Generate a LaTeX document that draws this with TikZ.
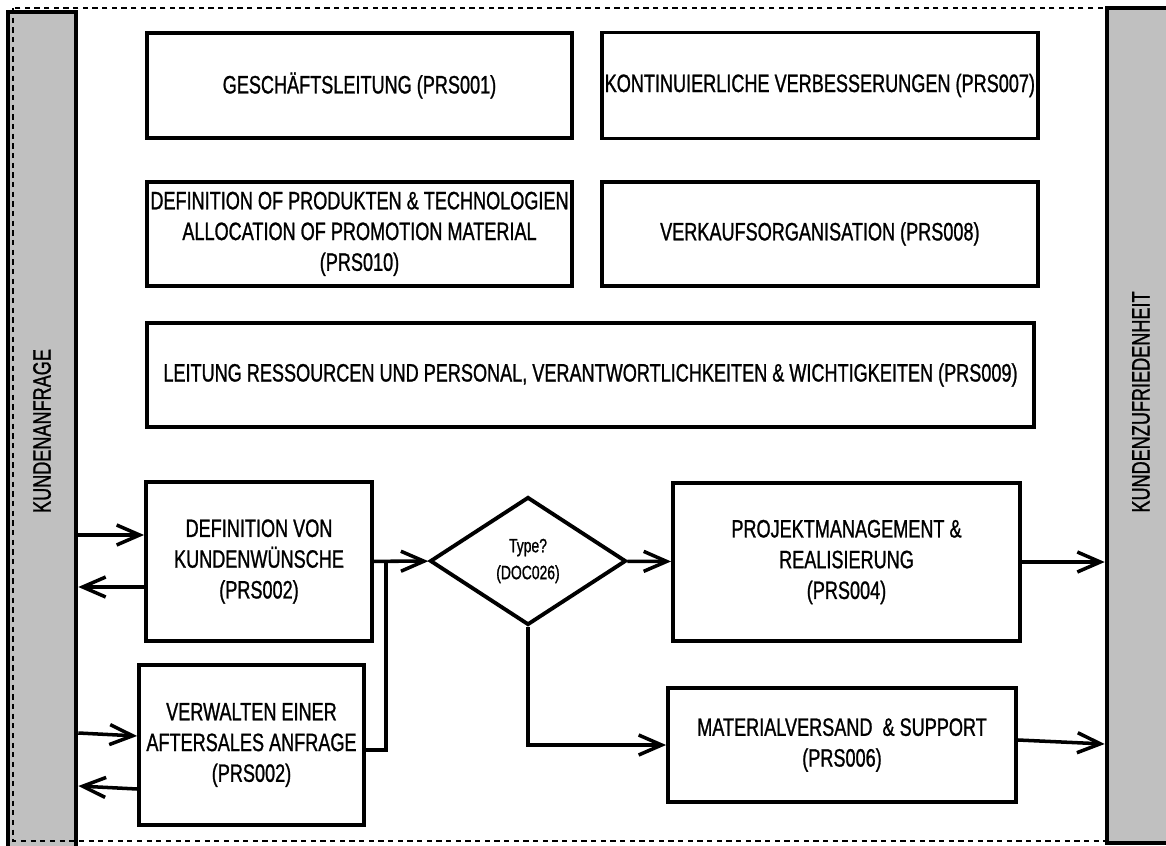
\documentclass[tikz,border=0pt]{standalone}
\usepackage{graphicx}
\usepackage{fontspec}
\setmainfont{Liberation Sans}[FakeStretch=0.72,FakeBold=1]
\usepackage{tikz}
\usetikzlibrary{positioning,shapes.geometric,arrows.meta,calc}
\definecolor{balkengrau}{HTML}{C0C0C0}

\begin{document}
\begin{tikzpicture}[-,>={Straight Barb[length=4.6mm,width=4mm]},line width=2pt,
box/.style={rectangle,draw,line width=2.2pt,align=center,inner sep=1pt,font=\fontsize{14.3}{17.5}\selectfont},
balken/.style={rectangle,draw,fill=balkengrau,line width=2.6pt,minimum width=1.36cm,minimum height=16.7cm,inner sep=0pt,font=\fontsize{14.3}{17.5}\selectfont},
raute/.style={diamond,draw,line width=2.2pt,minimum width=3.92cm,minimum height=2.56cm,inner sep=0pt,align=center,font=\fontsize{11}{15.3}\selectfont}]
                \useasboundingbox (0,0) rectangle (23.32,-16.92);
                \node[balken,minimum height=16.76cm] (links) at (0.84,-8.62) {\rotatebox{90}{KUNDENANFRAGE}};
                \node[balken] (rechts) at (22.82,-8.51) {};
                \node[rotate=90,font=\fontsize{14.3}{17.5}\selectfont] (rechtstext) at (22.82,-8.04) {KUNDENZUFRIEDENHEIT};
                \draw[dash pattern=on 3pt off 2.5pt,line width=0.6pt] (0.26,-0.16) rectangle (22.14,-16.82);

                \node[box,minimum width=8.5cm,minimum height=2.1cm] (gl) at (7.19,-1.71) {GESCHÄFTSLEITUNG (PRS001)};
                \node[box,minimum width=8.72cm,minimum height=2.12cm] (kv) [right=0.52cm of gl] {KONTINUIERLICHE VERBESSERUNGEN (PRS007)};
                \node[box,minimum width=8.5cm,minimum height=2.08cm] (dp) [below=0.8cm of gl] {DEFINITION OF PRODUKTEN \& TECHNOLOGIEN\\ALLOCATION OF PROMOTION MATERIAL\\(PRS010)};
                \node[box,minimum width=8.72cm,minimum height=2.08cm] (vo) [right=0.52cm of dp] {VERKAUFSORGANISATION (PRS008)};
                \node[box,minimum width=17.74cm,minimum height=2.08cm] (lr) at (11.81,-7.5) {LEITUNG RESSOURCEN UND PERSONAL, VERANTWORTLICHKEITEN \& WICHTIGKEITEN (PRS009)};

                \node[box,minimum width=4.52cm,minimum height=3.18cm] (dk) at (5.18,-11.23) {DEFINITION VON\\KUNDENWÜNSCHE\\(PRS002)};
                \node[box,minimum width=4.5cm,minimum height=3.2cm] (va) at (5.03,-14.9) {VERWALTEN EINER\\AFTERSALES ANFRAGE\\(PRS002)};
                \node[raute] (typ) at (10.56,-11.22) {Type?\\(DOC026)};
                \node[box,minimum width=6.94cm,minimum height=3.16cm] (pm) at (16.93,-11.24) {PROJEKTMANAGEMENT \&\\REALISIERUNG\\(PRS004)};
                \node[box,minimum width=6.96cm,minimum height=2.28cm] (ms) at (16.84,-14.9) {MATERIALVERSAND \ \& SUPPORT\\(PRS006)};
                \coordinate (knick) at ($(dk.east)!0.22!(typ.west)$);

                \path[->,line width=2pt]
                    ([yshift=5.3mm]dk.west -| links.east) edge ([yshift=5.3mm]dk.west)
                    ([yshift=-5.1mm]dk.west) edge ([yshift=-5.1mm]dk.west -| links.east)
                    (links.east |- 0,-14.66) edge ([yshift=1.8mm]va.west)
                    ([yshift=-8.8mm]va.west) edge (links.east |- 0,-15.72)
                    (dk) edge (typ)
                    (typ) edge (pm)
                    (pm.east) edge (pm.east -| rechts.west)
                    ([yshift=1mm]ms.east) edge ([yshift=0.2mm]ms.east -| rechts.west)
                    ;
                \draw ([yshift=-1mm]va.east) -| (knick);
                \draw[->] (typ.south) |- (ms.west);
            \end{tikzpicture}
\end{document}
